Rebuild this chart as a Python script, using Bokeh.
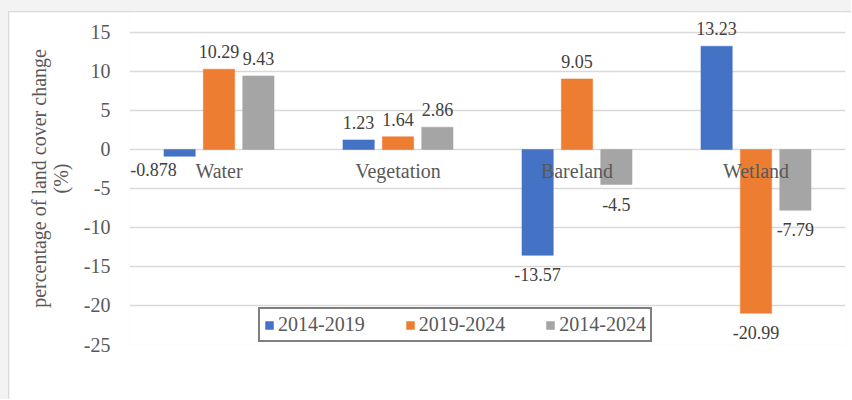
from bokeh.plotting import figure
from bokeh.layouts import column
from bokeh.models import (ColumnDataSource, FixedTicker, Legend, LegendItem, Range1d,
                          FactorRange, PrintfTickFormatter, LabelSet)
from bokeh.transform import dodge
from bokeh.embed import file_html
from bokeh.resources import INLINE

categories = ["Water", "Vegetation", "Bareland", "Wetland"]
series_names = ["2014-2019", "2019-2024", "2014-2024"]
v_2014_2019 = [-0.878, 1.23, -13.57, 13.23]
v_2019_2024 = [10.29, 1.64, 9.05, -20.99]
v_2014_2024 = [9.43, 2.86, -4.5, -7.79]
y_ticks = [-25, -20, -15, -10, -5, 0, 5, 10, 15]

colors = ["#4472C4", "#ED7D31", "#A5A5A5"]
offsets = [-0.22, 0.0, 0.22]
FONT = "Liberation Serif"

# extra headroom above 15 so the top data label is not culled (no gridline is drawn there)
p = figure(x_range=FactorRange(*categories, range_padding=0), y_range=Range1d(-25, 17.56),
           width=843, height=388, output_backend="svg", toolbar_location=None,
           min_border_left=120, min_border_right=7, min_border_top=0, min_border_bottom=56,
           styles={"border-left": "1px solid #d9d9d9", "border-top": "1px solid #d9d9d9"})
p.outline_line_color = None
p.border_fill_color = "white"
p.background_fill_color = "white"
p.xgrid.grid_line_color = None
p.ygrid.grid_line_color = "#d9d9d9"
p.ygrid.grid_line_width = 1.3
p.xaxis.visible = False

ya = p.yaxis[0]
ya.ticker = FixedTicker(ticks=y_ticks)
ya.formatter = PrintfTickFormatter(format="%d")
ya.axis_line_color = None
ya.major_tick_line_color = None
ya.minor_tick_line_color = None
ya.major_tick_out = 0
ya.major_tick_in = 0
ya.major_label_standoff = 19
ya.major_label_text_font = FONT
ya.major_label_text_font_size = "20px"
ya.major_label_text_color = "#595959"
ya.axis_label = "percentage of land cover change\n(%)"
ya.axis_label_text_font = FONT
ya.axis_label_text_font_size = "20px"
ya.axis_label_text_font_style = "normal"
ya.axis_label_text_color = "#595959"
ya.axis_label_text_line_height = 1.0
ya.axis_label_standoff = 9

all_vals = [v_2014_2019, v_2019_2024, v_2014_2024]
items = []
for i, (name, vals) in enumerate(zip(series_names, all_vals)):
    labels = [str(v) for v in vals]
    yoff = [11 if v >= 0 else -26 for v in vals]
    xoff = [0 for v in vals]
    if i == 0:
        xoff[0] = -26
        yoff[0] = -20
    src = ColumnDataSource(dict(x=categories, top=vals, lab=labels, yoff=yoff, xoff=xoff))
    r = p.vbar(x=dodge("x", offsets[i], range=p.x_range), top="top", bottom=0, width=0.175,
               source=src, fill_color=colors[i], line_color=colors[i], line_width=0.5)
    items.append(LegendItem(label=name, renderers=[r]))
    ls = LabelSet(x=dodge("x", offsets[i], range=p.x_range), y="top", text="lab", source=src,
                  x_offset="xoff", y_offset="yoff", text_align="center",
                  text_baseline="alphabetic", text_font=FONT, text_font_size="18px",
                  text_color="#404040")
    p.add_layout(ls)

# category labels next to the zero line
csrc = ColumnDataSource(dict(x=categories, y=[0] * len(categories), t=categories))
cl = LabelSet(x="x", y="y", text="t", source=csrc, text_align="center", text_baseline="top",
              y_offset=-11, text_font=FONT, text_font_size="20px", text_color="#595959")
p.add_layout(cl)

legend = Legend(items=items, orientation="horizontal", location=(129, 2),
                border_line_color="black", border_line_width=2,
                label_text_font=FONT, label_text_font_size="20px", label_text_color="#595959",
                glyph_width=10, glyph_height=10, label_standoff=4, spacing=40,
                padding=4, margin=0, background_fill_color="white", background_fill_alpha=1)
p.add_layout(legend, "center")

page = column(p, styles={"background-color": "#f3f3f3", "padding-left": "8px",
                         "padding-top": "11px"})

open("out.html", "w").write(file_html(page, INLINE))
